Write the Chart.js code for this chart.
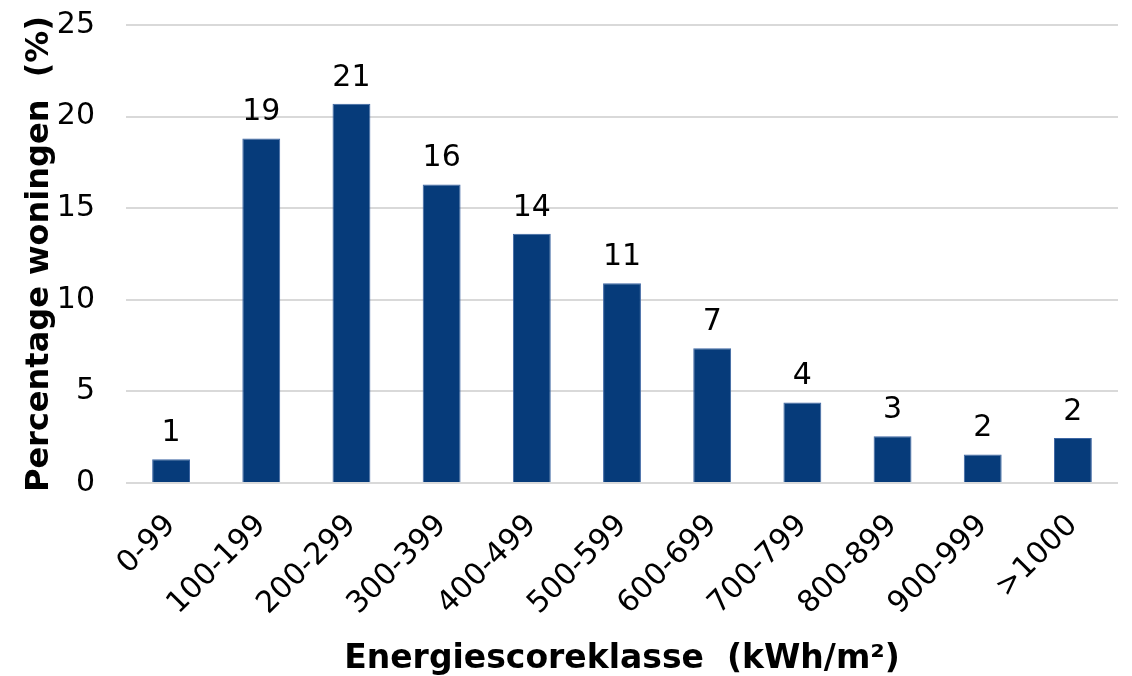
<!DOCTYPE html>
<html>
<head>
<meta charset="utf-8">
<script src="https://cdn.jsdelivr.net/npm/chart.js@4.4.0/dist/chart.umd.min.js"></script>
<style>
  html, body { margin: 0; padding: 0; background: #fff; }
  #wrap { width: 1132px; height: 676px; }
</style>
</head>
<body>
<div id="wrap"><canvas id="chart"></canvas></div>
<script>
// data
const categories = ['0-99', '100-199', '200-299', '300-399', '400-499', '500-599',
  '600-699', '700-799', '800-899', '900-999', '>1000'];
const shares = [1.3, 18.8, 20.7, 16.3, 13.6, 10.9, 7.35, 4.4, 2.55, 1.55, 2.45];
const shareLabels = ['1', '19', '21', '16', '14', '11', '7', '4', '3', '2', '2'];
const yTicks = [0, 5, 10, 15, 20, 25];

const FONT = "'DejaVu Sans', Verdana, sans-serif";

// value labels above each bar
const barLabels = {
  id: 'barLabels',
  afterDatasetsDraw(chart) {
    const ctx = chart.ctx;
    const meta = chart.getDatasetMeta(0);
    ctx.save();
    ctx.font = '30px ' + FONT;
    ctx.fillStyle = '#000';
    ctx.textAlign = 'center';
    ctx.textBaseline = 'bottom';
    meta.data.forEach((bar, i) => {
      ctx.fillText(shareLabels[i], bar.x, bar.y - 11);
    });
    ctx.restore();
  }
};

new Chart(document.getElementById('chart'), {
  type: 'bar',
  data: {
    labels: categories,
    datasets: [{
      data: shares,
      backgroundColor: '#063b7a',
      borderColor: '#3d66a3',
      borderWidth: 1,
      barPercentage: 0.42,
      categoryPercentage: 1
    }]
  },
  options: {
    responsive: true,
    maintainAspectRatio: false,
    animation: false,
    layout: { padding: { top: 25, right: 14, left: 16, bottom: 0 } },
    plugins: {
      legend: { display: false },
      tooltip: { enabled: false }
    },
    scales: {
      x: {
        grid: { display: false },
        border: { display: false },
        ticks: {
          color: '#000',
          font: { family: FONT, size: 30 },
          maxRotation: 45,
          minRotation: 45,
          autoSkip: false,
          padding: 17
        },
        title: {
          display: true,
          text: 'Energiescoreklasse  (kWh/m²)',
          color: '#000',
          font: { family: FONT, size: 33, weight: 'bold' },
          padding: { top: 0, bottom: -3 }
        },
        afterFit(scale) {
          scale.height = 676 - 483;
        }
      },
      y: {
        min: 0,
        max: 25,
        afterBuildTicks(scale) {
          scale.ticks = yTicks.map(v => ({ value: v }));
        },
        grid: { color: '#d9d9d9', lineWidth: 2, drawTicks: false },
        border: { display: false },
        ticks: {
          color: '#000',
          font: { family: FONT, size: 30 },
          padding: 31
        },
        title: {
          display: true,
          text: 'Percentage woningen  (%)',
          color: '#000',
          font: { family: FONT, size: 32, weight: 'bold' },
          padding: { bottom: 4 }
        },
        afterFit(scale) {
          scale.width = 126 - 16;
          scale.paddingTop = 0;
          scale.paddingBottom = 0;
        }
      }
    }
  },
  plugins: [barLabels]
});
</script>
</body>
</html>
